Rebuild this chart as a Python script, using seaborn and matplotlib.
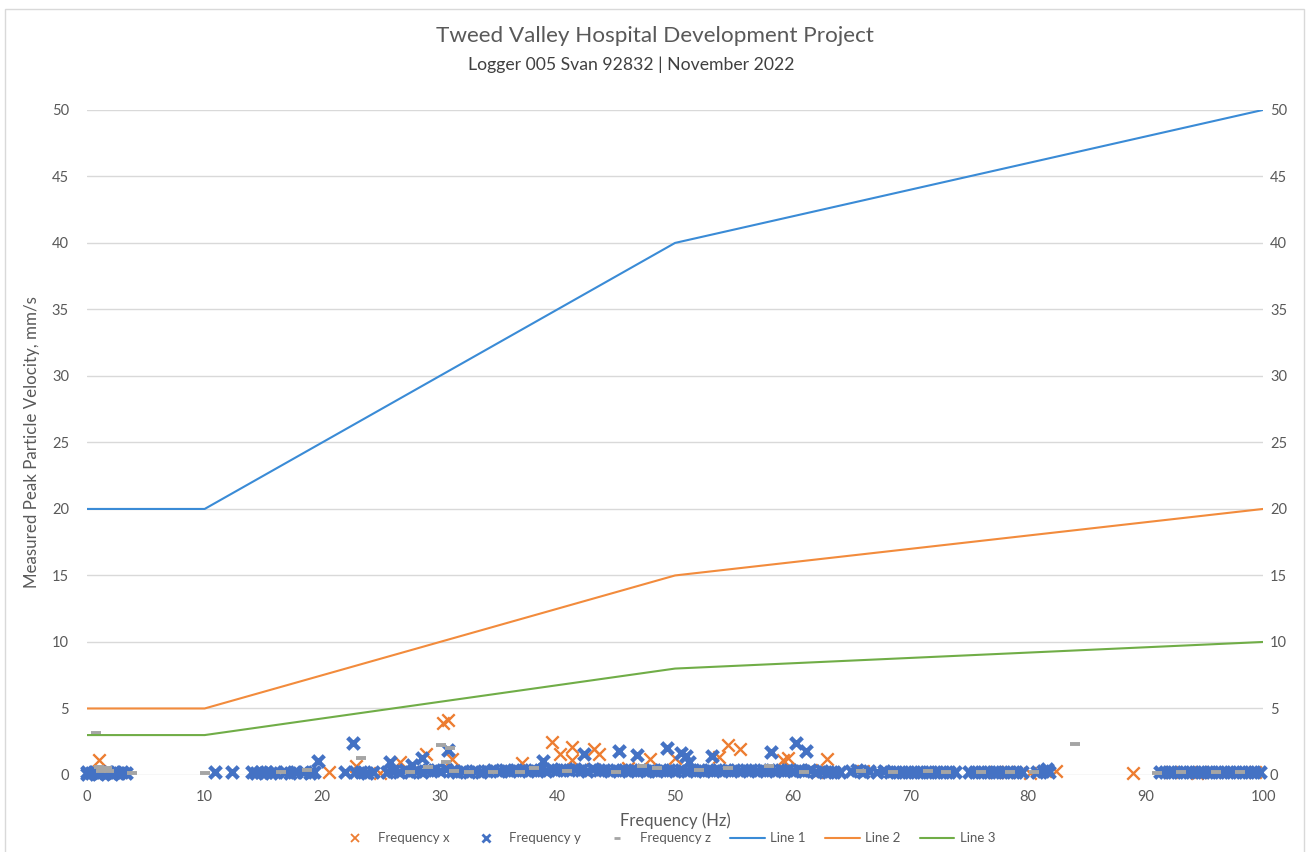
"""Tweed Valley Hospital - PPV vs frequency scatter with criteria lines."""

import matplotlib.pyplot as plt
import matplotlib.patches as mpatches
from matplotlib.lines import Line2D
import pandas as pd
import seaborn as sns

# ── data ──
# Frequency x (orange crosses)
freq_x = [1.0, 20.6, 22.9, 24.9, 26.6, 28.8, 30.3, 30.7, 31.0, 37.0, 39.5, 40.2,
          41.2, 41.2, 43.1, 43.5, 43.0, 46.0, 47.9, 50.0, 53.7, 54.5, 55.5, 59.2,
          59.6, 61.6, 62.1, 62.9, 66.0, 77.2, 78.3, 80.2, 82.4, 88.9, 92.2, 94.4,
          94.7, 99.3]
ppv_x = [1.13, 0.25, 0.68, 0.15, 0.98, 1.6, 3.9, 4.1, 1.2, 0.9, 2.5, 1.6,
         2.1, 1.1, 1.95, 1.6, 0.45, 0.5, 1.2, 1.3, 1.35, 2.25, 1.95, 1.1,
         1.3, 0.4, 0.25, 1.2, 0.3, 0.2, 0.2, 0.15, 0.3, 0.15, 0.2, 0.15,
         0.2, 0.2]

# Frequency y (blue crosses)
freq_y = [0.0, 0.0, 0.3, 0.6, 0.9, 1.2, 1.5, 1.8, 2.1, 2.4, 2.7, 3.0, 3.3,
          10.9, 12.3, 14.0, 14.4, 14.8, 15.2, 15.6, 16.0, 16.8, 17.3, 17.8, 18.4,
          19.0, 19.3, 19.6, 21.9, 22.6, 22.8, 23.3, 23.8, 24.3,
          25.5, 25.8, 26.0, 26.5, 27.0, 27.5, 27.6, 28.0, 28.5, 28.5, 29.0, 29.5,
          30.0, 30.5, 30.7, 31.0, 31.5, 32.0, 32.5, 33.0, 33.5, 34.0, 34.5, 35.0,
          35.5, 36.0, 36.5, 37.0, 37.5, 38.0, 38.5, 38.8, 39.0, 39.5, 40.0, 40.5,
          41.0, 41.5, 42.0, 42.3, 42.5, 43.0, 43.5, 44.0, 44.5, 45.0, 45.2, 45.5,
          46.0, 46.5, 46.8, 47.0, 47.5, 48.0, 48.5, 49.0, 49.3, 49.5, 50.0, 50.5,
          50.5, 50.9, 51.0, 51.2, 51.5, 52.0, 52.5, 53.0, 53.1, 53.5, 54.0, 54.5,
          55.0, 55.5, 56.0, 56.5, 57.0, 57.5, 58.0, 58.2, 58.5, 59.0, 59.5, 60.0,
          60.3, 60.5, 61.0, 61.1, 61.5, 62.0, 62.5, 63.0, 63.5, 64.0,
          65.0, 65.5, 66.0, 66.5, 67.2, 67.8, 68.3, 68.8, 69.3, 69.8, 70.3, 70.8,
          71.3, 71.8, 72.3, 72.8, 73.3, 73.8,
          75.0, 75.5, 76.0, 76.5, 77.0, 77.5, 78.0, 78.5, 79.0, 79.5, 80.8, 81.3,
          81.8, 81.6,
          91.2, 91.7, 92.2, 92.7, 93.2, 93.7, 94.2, 94.7, 95.2, 95.7, 96.2, 96.7,
          97.2, 97.7, 98.2, 98.7, 99.2, 99.7]
ppv_y = [0.05, 0.25, 0.15, 0.2, 0.1, 0.2, 0.15, 0.2, 0.1, 0.2, 0.15, 0.2, 0.15,
         0.2, 0.2, 0.2, 0.15, 0.2, 0.2, 0.15, 0.2, 0.2, 0.15, 0.2, 0.2,
         0.15, 0.2, 1.05, 0.2, 2.4, 0.2, 0.2, 0.15, 0.2,
         0.2, 1.0, 0.3, 0.2, 0.35, 0.25, 0.75, 0.3, 0.2, 1.3, 0.35, 0.4,
         0.3, 0.45, 1.9, 0.3, 0.25, 0.3, 0.2, 0.3, 0.25, 0.3, 0.35, 0.3,
         0.35, 0.3, 0.4, 0.35, 0.3, 0.35, 0.4, 1.05, 0.3, 0.45, 0.35, 0.4,
         0.35, 0.45, 0.4, 1.6, 0.3, 0.45, 0.35, 0.4, 0.3, 0.35, 1.8, 0.4,
         0.3, 0.35, 1.5, 0.4, 0.3, 0.35, 0.3, 0.4, 2.0, 0.35, 0.3, 1.65,
         0.4, 1.4, 0.3, 1.0, 0.35, 0.4, 0.3, 0.35, 1.4, 0.4, 0.3, 0.35,
         0.4, 0.3, 0.35, 0.4, 0.3, 0.35, 0.4, 1.7, 0.3, 0.35, 0.4, 0.3,
         2.4, 0.35, 0.3, 1.8, 0.35, 0.25, 0.3, 0.2, 0.25, 0.2,
         0.3, 0.35, 0.25, 0.3, 0.25, 0.3, 0.2, 0.25, 0.2, 0.25, 0.2, 0.25,
         0.2, 0.25, 0.2, 0.25, 0.2, 0.25,
         0.2, 0.25, 0.2, 0.2, 0.25, 0.2, 0.2, 0.25, 0.2, 0.2, 0.25, 0.3,
         0.25, 0.45,
         0.2, 0.25, 0.2, 0.25, 0.2, 0.2, 0.25, 0.2, 0.2, 0.25, 0.2, 0.2,
         0.25, 0.2, 0.2, 0.25, 0.2, 0.2]

# Frequency z (grey dashes)
freq_z = [0.8, 1.0, 1.3, 1.6, 1.9, 1.2, 1.7, 3.8, 10.0, 16.5, 18.7, 23.3, 27.5,
          29.0, 30.1, 30.9, 30.5, 31.2, 32.5, 34.5, 36.8, 38.0, 40.8, 45.0, 47.2,
          48.5, 52.0, 54.5, 58.0, 61.0, 65.8, 68.5, 71.5, 73.0, 76.0, 78.5, 80.5,
          84.0, 91.0, 93.0, 96.0, 98.0]
ppv_z = [3.15, 0.6, 0.5, 0.4, 0.3, 0.3, 0.5, 0.15, 0.15, 0.2, 0.4, 1.3, 0.2,
         0.6, 2.25, 2.0, 1.0, 0.3, 0.25, 0.2, 0.25, 0.55, 0.3, 0.25, 0.7,
         0.5, 0.35, 0.55, 0.7, 0.25, 0.3, 0.25, 0.3, 0.2, 0.2, 0.2, 0.25,
         2.35, 0.15, 0.2, 0.2, 0.2]

line_freq = [0, 10, 50, 100]
line_1 = [20, 20, 40, 50]
line_2 = [5, 5, 15, 20]
line_3 = [3, 3, 8, 10]

C_X, C_Y, C_Z = "#ED7D31", "#4472C4", "#A5A5A5"
C_L1, C_L2, C_L3 = "#3A8BD6", "#F28B3C", "#70AD47"
TXT = "#595959"

sns.set_theme(style="white")
plt.rcParams["font.family"] = ["Lato", "DejaVu Sans"]

fig = plt.figure(figsize=(13.09, 8.52), dpi=100)
ax = fig.add_axes([0.0665, 0.0904, 0.8984, 0.7806])

lines_df = pd.DataFrame({"f": line_freq, "l1": line_1, "l2": line_2, "l3": line_3})

sns.scatterplot(x=freq_x, y=ppv_x, ax=ax, marker="x", s=80, color=C_X,
                linewidth=1.7, clip_on=False, zorder=3)
sns.scatterplot(x=freq_y, y=ppv_y, ax=ax, marker="x", s=70, color=C_Y,
                linewidth=3.2, clip_on=False, zorder=4)
sns.scatterplot(x=freq_z, y=ppv_z, ax=ax, marker="_", s=50, color=C_Z,
                linewidth=2.8, clip_on=False, zorder=5)
sns.lineplot(data=lines_df, x="f", y="l1", ax=ax, color=C_L1, lw=1.5, zorder=6)
sns.lineplot(data=lines_df, x="f", y="l2", ax=ax, color=C_L2, lw=1.5, zorder=6)
sns.lineplot(data=lines_df, x="f", y="l3", ax=ax, color=C_L3, lw=1.5, zorder=6)

ax.set_xlim(0, 100)
ax.set_ylim(0, 50)
ax.set_xticks(range(0, 101, 10))
ax.set_yticks(range(0, 51, 5))
ax.grid(axis="y", color="#D9D9D9", lw=1)
ax.grid(axis="x", visible=False)
for s in ax.spines.values():
    s.set_visible(False)
ax.tick_params(axis="both", length=0, labelsize=10.5, labelcolor=TXT)
ax.tick_params(axis="x", pad=11)
ax.tick_params(axis="y", pad=13)
ax.set_xlabel("Frequency (Hz)", fontsize=12, color=TXT, labelpad=6)
ax.set_ylabel("Measured Peak Particle Velocity, mm/s", fontsize=12.2, color=TXT)
ax.yaxis.set_label_coords(-0.040, 0.5)

ax2 = ax.twinx()
ax2.set_ylim(0, 50)
ax2.set_yticks(range(0, 51, 5))
ax2.tick_params(axis="y", length=0, labelsize=10.5, labelcolor=TXT, pad=5)
for s in ax2.spines.values():
    s.set_visible(False)
ax2.grid(False)

fig.text(0.5, 0.958, "Tweed Valley Hospital Development Project", ha="center",
         va="center", fontsize=16.2, color=TXT)
fig.text(0.482, 0.924, "Logger 005 Svan 92832 | November 2022", ha="center",
         va="center", fontsize=12.7, color="#404040")

handles = [
    Line2D([], [], ls="none", marker="x", color=C_X, ms=6, mew=1.3),
    Line2D([], [], ls="none", marker="x", color=C_Y, ms=6, mew=2),
    Line2D([], [], ls="none", marker="_", color=C_Z, ms=5, mew=2),
    Line2D([], [], color=C_L1, lw=1.5),
    Line2D([], [], color=C_L2, lw=1.5),
    Line2D([], [], color=C_L3, lw=1.5),
]
labels = ["Frequency x", "Frequency y", "Frequency z", "Line 1", "Line 2", "Line 3"]
fig.legend(handles, labels, loc="center", bbox_to_anchor=(0.509, 0.016), ncol=6,
           frameon=False, fontsize=9.5, labelcolor=TXT, handlelength=2.65,
           columnspacing=1.45, handletextpad=0.4)

fig.add_artist(mpatches.Rectangle((0.004, -0.01), 0.992, 1.0, transform=fig.transFigure,
                                  fill=False, ec="#D9D9D9", lw=1))

fig.savefig("out.png", dpi=100)
